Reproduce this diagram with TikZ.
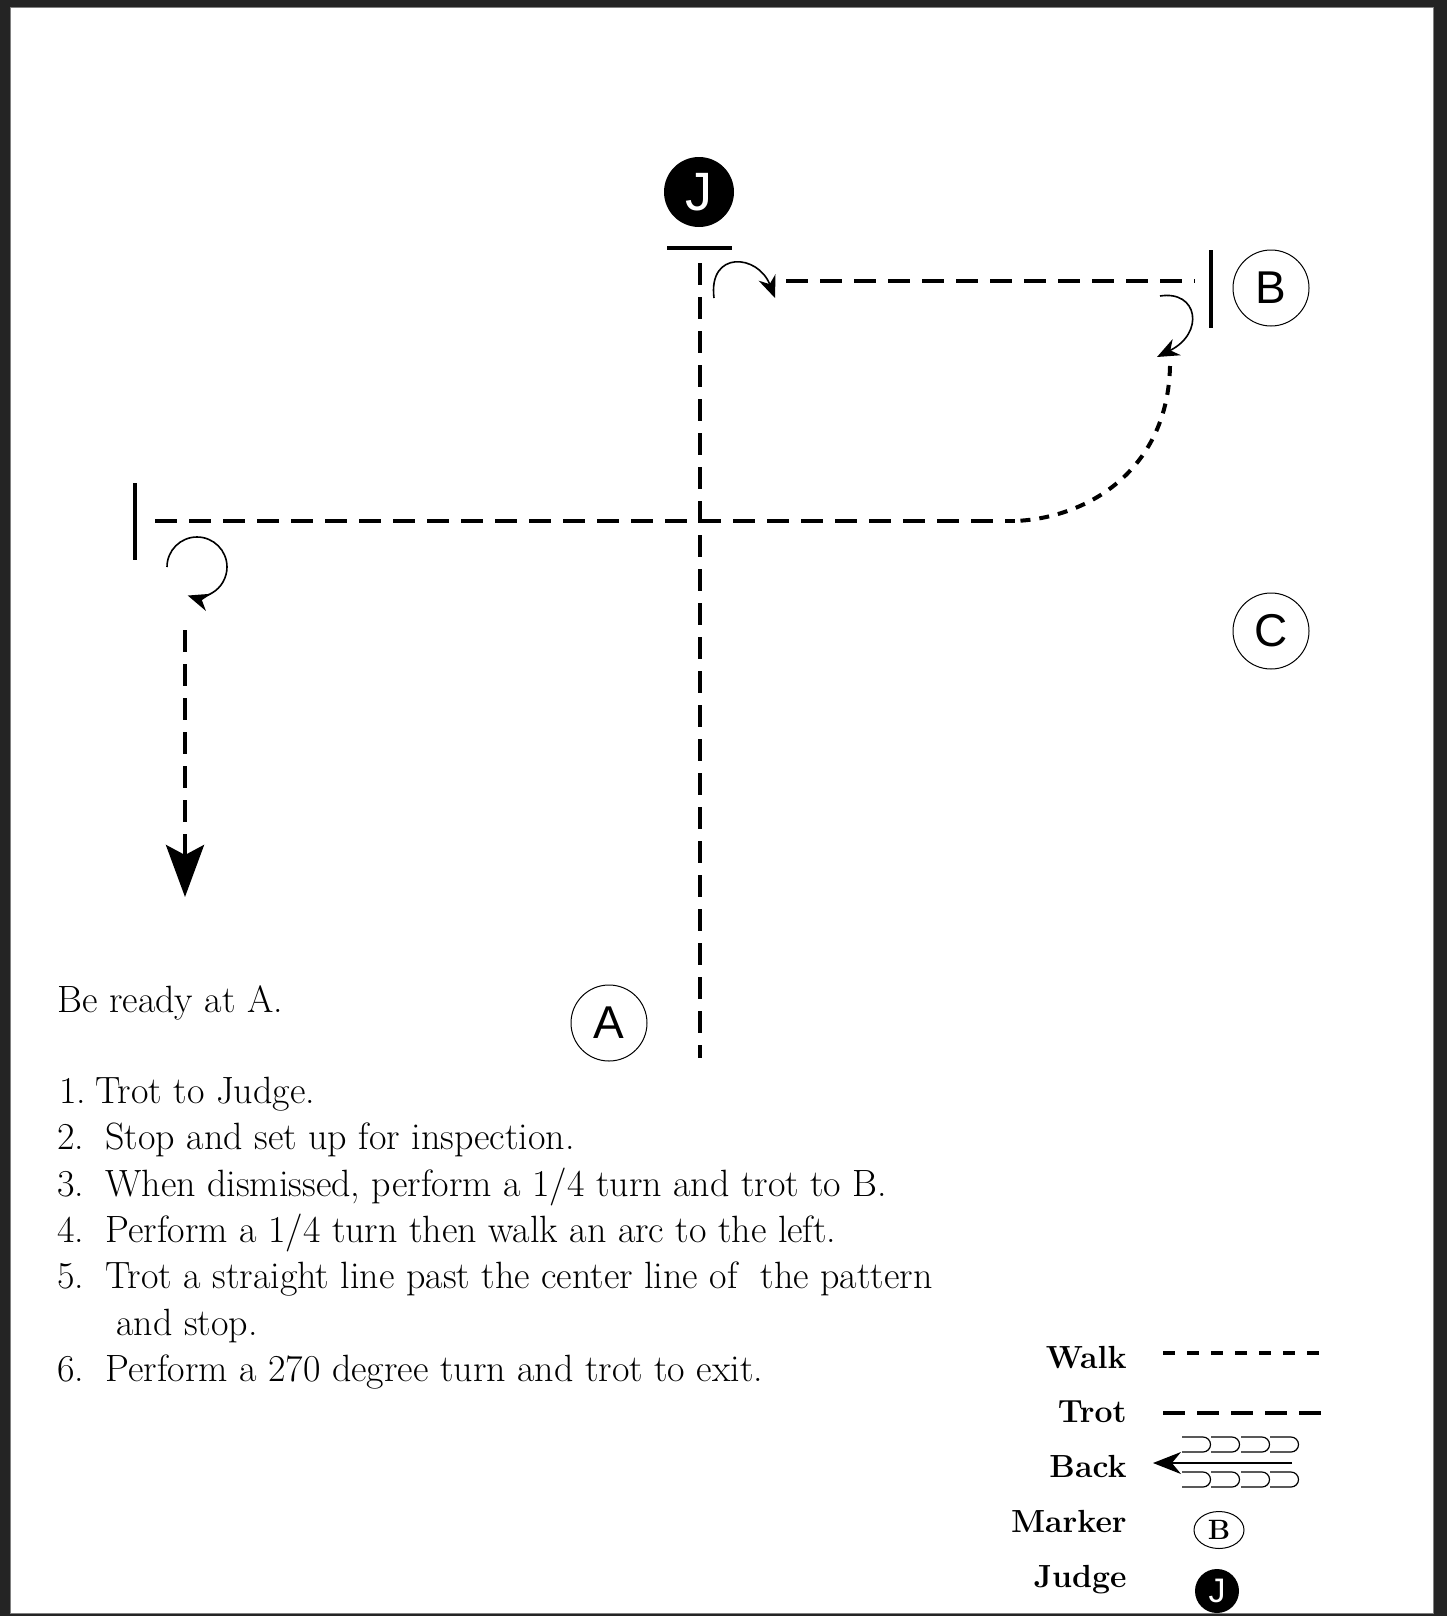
\documentclass[tikz,border=0pt]{standalone}
\usepackage{fontspec}
\newfontfamily\markfont{Liberation Sans}
\usetikzlibrary{arrows.meta,shapes.geometric}
\begin{document}
\begin{tikzpicture}[x=0.5pt,y=-0.5pt,
  trot/.style={line width=2pt, dash pattern=on 11pt off 6pt},
  walk/.style={line width=2pt, dash pattern=on 5pt off 4.5pt},
  legwalk/.style={line width=2pt, dash pattern=on 6pt off 6pt},
  turn/.style={line width=0.8pt, -{Stealth[length=11pt,width=9pt]}},
  thinline/.style={line width=0.6pt},
  marker/.style={circle, draw, line width=0.5pt, minimum size=38pt, inner sep=0pt, font=\markfont\fontsize{23}{23}\selectfont},
  judge/.style={circle, fill=black, minimum size=35pt, inner sep=0pt, text=white, font=\markfont\fontsize{27}{27}\selectfont},
  bar/.style={line width=2pt},
  body/.style={anchor=base west, inner sep=0pt, font=\fontsize{19}{22}\selectfont},
  legend/.style={anchor=base east, inner sep=0pt, font=\bfseries\fontsize{16}{18}\selectfont},
]
\useasboundingbox (0,0) rectangle (1447,1616);
\fill[black!86] (0,0) rectangle (1447,1616);
\fill[white, draw=gray, line width=0.5pt] (10,8) rectangle (1433,1613);

% judge and centre line
\node[judge] (J) at (699,192) {J};
\coordinate (jbarL) at (667,248); \coordinate (jbarR) at (732,248);
\draw[bar] (jbarL) -- (jbarR);
\coordinate (ctop) at (700,259); \coordinate (cbot) at (700,1058);
\draw[trot, dash phase=15pt] (ctop) -- (cbot);

% turn at judge
\coordinate (jt1) at (714,298); \coordinate (jt2) at (775,298);
\draw[turn] (jt1) .. controls (708,250) and (758,254) .. (jt2);

% trot to B
\coordinate (t1s) at (786,281); \coordinate (t1e) at (1195,281);
\draw[trot] (t1s) -- (t1e);
\coordinate (bbarT) at (1211,250); \coordinate (bbarB) at (1211,328);
\draw[bar] (bbarT) -- (bbarB);
\node[marker] (B) at (1271,288) {B};
\node[marker] (C) at (1271,631) {C};
\node[marker] (A) at (609,1023) {A};

% turn at B
\coordinate (bt1) at (1160,296); \coordinate (bt2) at (1157,357);
\draw[turn] (bt1) .. controls (1198,290) and (1205,333) .. (bt2);

% walk arc
\coordinate (w1) at (1170,366); \coordinate (w2) at (1015,521);
\draw[walk] (w1) .. controls (1168,468) and (1090,518) .. (w2);

% trot straight line
\coordinate (t2s) at (155,521);
\draw[trot] (t2s) -- (w2);
\coordinate (lbarT) at (135,483); \coordinate (lbarB) at (135,560);
\draw[bar] (lbarT) -- (lbarB);

% 270 turn
\coordinate (lt1) at (167,567);
\draw[turn] (lt1) arc[start angle=180, end angle=-108, radius=15pt];

% exit
\coordinate (ex1) at (185,630); \coordinate (ex2) at (185,897);
\draw[trot, -{Stealth[length=26pt,width=19pt,inset=5pt]}] (ex1) -- (ex2);

% instructions
\node[body] (ready) at (57,1012) {Be ready at A.};
\node[body] (n1) at (59,1103) {1.};
\node[body] (s1) at (95,1103) {Trot to Judge.};
\node[body] (n2) at (57,1149) {2.};
\node[body] (s2) at (105,1149) {Stop and set up for inspection.};
\node[body] (n3) at (57,1196) {3.};
\node[body] (s3) at (105,1196) {When dismissed, perform a 1/4 turn and trot to B.};
\node[body] (n4) at (57,1242) {4.};
\node[body] (s4) at (105,1242) {Perform a 1/4 turn then walk an arc to the left.};
\node[body] (n5) at (57,1288) {5.};
\node[body] (s5) at (105,1288) {Trot a straight line past the center line of\ \ the pattern};
\node[body] (s5b) at (116,1335) {and stop.};
\node[body] (n6) at (57,1381) {6.};
\node[body] (s6) at (105,1381) {Perform a 270 degree turn and trot to exit.};

% legend
\node[legend] (lwalk) at (1127,1368) {Walk};
\node[legend] (ltrot) at (1127,1422) {Trot};
\node[legend] (lback) at (1127,1477) {Back};
\node[legend] (lmark) at (1127,1532) {Marker};
\node[legend] (ljudge) at (1127,1587) {Judge};

\coordinate (lw1) at (1163,1353); \coordinate (lw2) at (1324,1353);
\draw[legwalk] (lw1) -- (lw2);
\coordinate (lt1s) at (1163,1413); \coordinate (lt1e) at (1324,1413);
\draw[trot] (lt1s) -- (lt1e);

\coordinate (bk1) at (1292,1463); \coordinate (bk2) at (1153,1463);
\draw[line width=0.7pt, -{Stealth[length=14pt,width=11pt]}] (bk1) -- (bk2);
\foreach \xa in {1182,1211,1241,1270} {
  \draw[thinline] (\xa,1437) -- ++(21,0) arc[start angle=90, end angle=-90, radius=3.75pt] -- (\xa,1452);
  \draw[thinline] (\xa,1472) -- ++(21,0) arc[start angle=90, end angle=-90, radius=3.75pt] -- (\xa,1487);
}

\node[ellipse, draw, line width=0.5pt, minimum width=25pt, minimum height=18.5pt, inner sep=0pt, font=\bfseries\fontsize{14}{14}\selectfont] (legB) at (1219,1530) {B};
\node[circle, fill=black, minimum size=22pt, inner sep=0pt, text=white, font=\markfont\fontsize{17}{17}\selectfont] (legJ) at (1217,1591) {J};
\end{tikzpicture}
\end{document}
